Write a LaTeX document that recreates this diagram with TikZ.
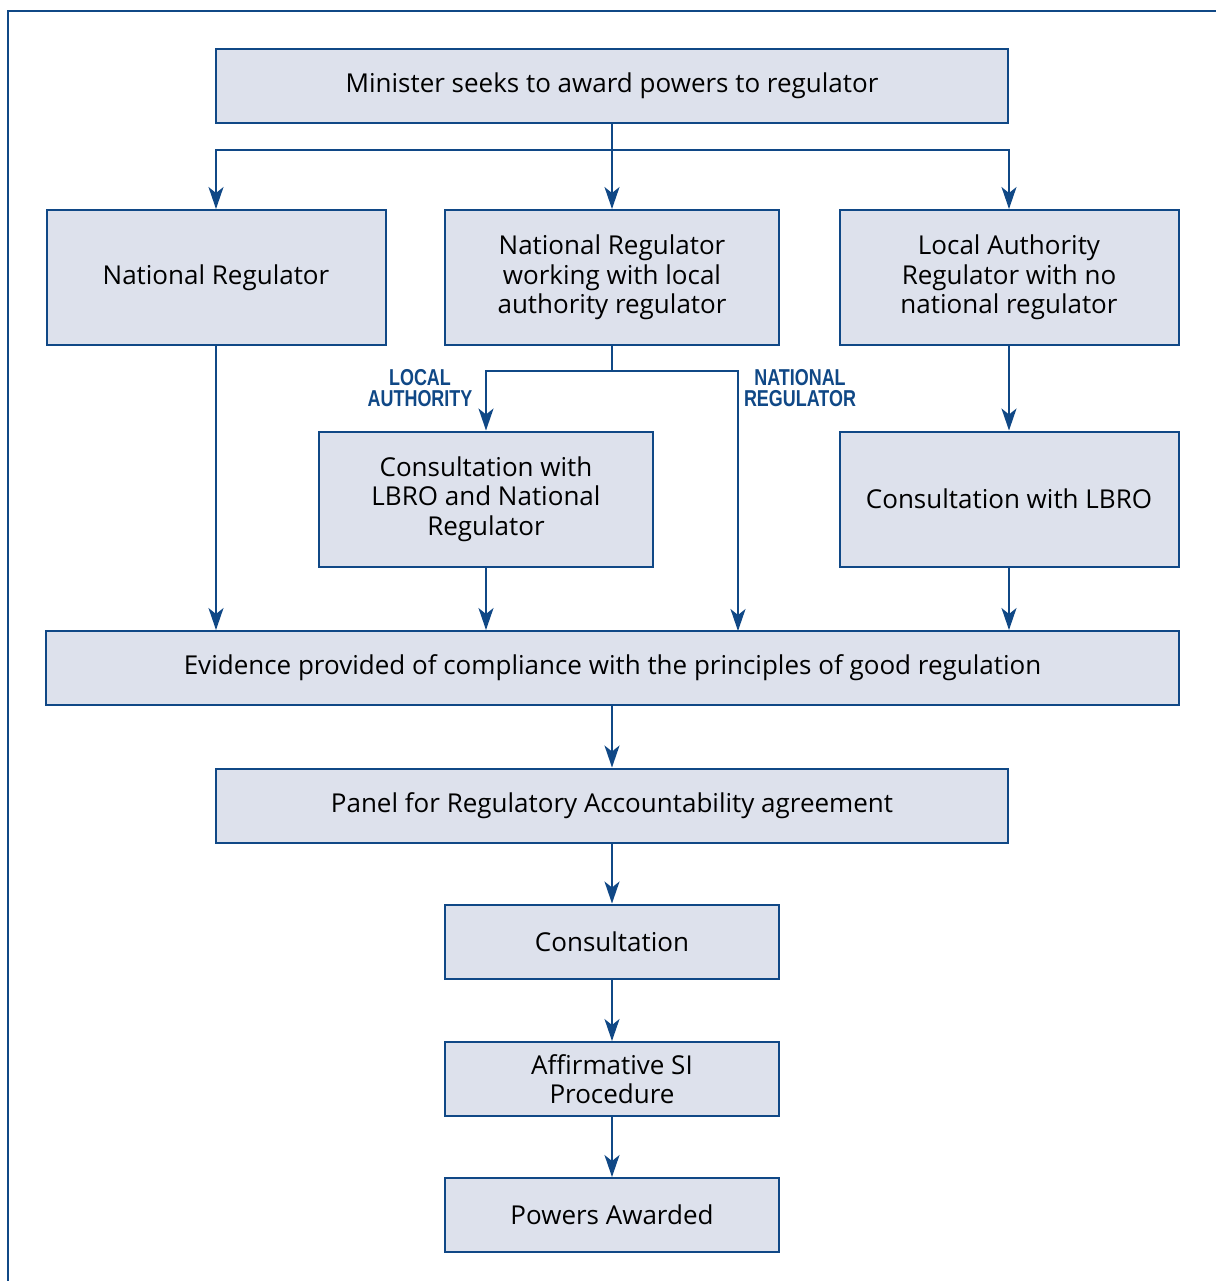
\documentclass[tikz,border=0pt]{standalone}
\usepackage{fontspec}
\setmainfont{Open Sans}
\newfontfamily\tagfont[FakeStretch=0.78]{Liberation Sans}
\usetikzlibrary{arrows.meta}

\definecolor{boxfill}{RGB}{221,225,236}
\definecolor{navy}{RGB}{16,72,134}

\tikzset{
  box/.style={draw=navy, fill=boxfill, line width=1pt, align=center,
    inner sep=0pt, font=\fontsize{13}{14.75}\selectfont},
  link/.style={draw=navy, line width=0.9pt},
  arr/.style={link, -{Stealth[length=11pt, width=7.5pt, inset=3pt]}},
  tag/.style={text=navy, align=center,
    font=\tagfont\bfseries\fontsize{11.5}{10.5}\selectfont}
}

\begin{document}
\begin{tikzpicture}[x=0.5pt, y=-0.5pt]

\useasboundingbox (0,0) rectangle (1216,1281);

% 外框
\draw[navy, line width=1pt] (1216,11) -- (8,11) -- (8,1281);

% 方框
\node[box, minimum width=396pt, minimum height=37pt] (top) at (612,86)
  {Minister seeks to award powers to regulator};

\node[box, minimum width=169.5pt, minimum height=67.5pt] (nr) at (216,277.5)
  {National Regulator};
\node[box, minimum width=167pt, minimum height=67.5pt] (nrla) at (612,277.5)
  {National Regulator\\working with local\\authority regulator};
\node[box, minimum width=169.5pt, minimum height=67.5pt] (la) at (1009,277.5)
  {Local Authority\\Regulator with no\\national regulator};

\node[box, minimum width=167pt, minimum height=67.5pt] (clnr) at (486,499)
  {Consultation with\\LBRO and National\\Regulator};
\node[box, minimum width=169.5pt, minimum height=67.5pt] (cl) at (1009,499)
  {Consultation with LBRO};

\node[box, minimum width=566.5pt, minimum height=37pt] (ev) at (612.5,668)
  {Evidence provided of compliance with the principles of good regulation};
\node[box, minimum width=396pt, minimum height=37pt] (pra) at (612,805.5)
  {Panel for Regulatory Accountability agreement};
\node[box, minimum width=167pt, minimum height=37pt] (cons) at (612,941.5)
  {Consultation};
\node[box, minimum width=167pt, minimum height=37pt] (si) at (612,1079)
  {Affirmative SI\\Procedure};
\node[box, minimum width=167pt, minimum height=37pt] (pa) at (612,1215)
  {Powers Awarded};

\node[tag] (tla) at (420,388) {LOCAL\\AUTHORITY};
\node[tag] (tnr) at (800,388) {NATIONAL\\REGULATOR};

% 连线
\coordinate (split) at (612,150);
\coordinate (fork) at (612,371);
\coordinate (evnr) at (738,631);

\draw[link] (top.south) -- (split);
\draw[arr] (split) -| (nr.north);
\draw[arr] (split) -- (nrla.north);
\draw[arr] (split) -| (la.north);

\draw[arr] (nr.south) -- (nr.south |- ev.north);
\draw[link] (nrla.south) -- (fork);
\draw[arr] (fork) -| (clnr.north);
\draw[arr] (fork) -| (evnr);
\draw[arr] (la.south) -- (cl.north);

\draw[arr] (clnr.south) -- (clnr.south |- ev.north);
\draw[arr] (cl.south) -- (cl.south |- ev.north);

\draw[arr] (ev.south -| pra.north) -- (pra.north);
\draw[arr] (pra.south) -- (cons.north);
\draw[arr] (cons.south) -- (si.north);
\draw[arr] (si.south) -- (pa.north);

\end{tikzpicture}
\end{document}
